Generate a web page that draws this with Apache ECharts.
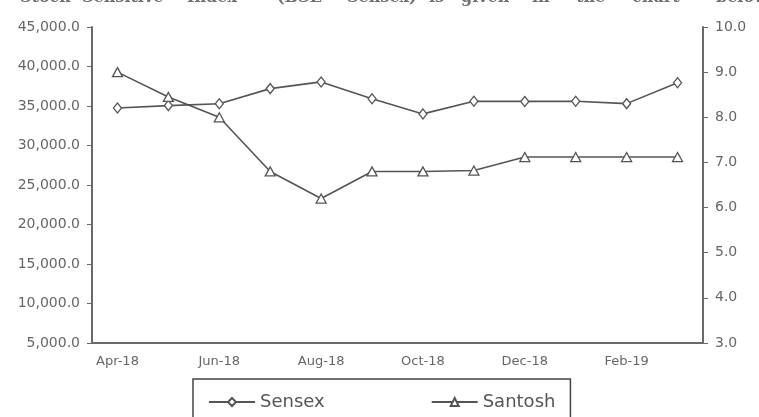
<!DOCTYPE html>
<html>
<head>
<meta charset="utf-8">
<script src="https://cdn.jsdelivr.net/npm/echarts@6/dist/echarts.min.js"></script>
<style>
html, body { margin: 0; padding: 0; background: #fff; }
#main { width: 759px; height: 417px; }
</style>
</head>
<body>
<div id="main"></div>
<script>
// data
var months = ['Apr-18', 'May-18', 'Jun-18', 'Jul-18', 'Aug-18', 'Sep-18', 'Oct-18', 'Nov-18', 'Dec-18', 'Jan-19', 'Feb-19', 'Mar-19'];
var sensex = [34750, 35050, 35280, 37200, 38050, 35920, 34000, 35600, 35580, 35600, 35300, 37950];
var santosh = [9.0, 8.45, 8.0, 6.8, 6.2, 6.8, 6.8, 6.82, 7.12, 7.12, 7.12, 7.12];
var headerText = 'Stock Sensitive Index" (BSE Sensex) is given in the chart below';

var ink = '#555';
var axisInk = '#6a6a6a';
var font = 'DejaVu Sans';

// header line of the scanned page, cut by the top edge
var headerX = [20, 82, 187, 277, 347, 429, 461, 532, 576, 632, 716];
var headerWords = headerText.split(' ');
var headerGraphics = headerWords.map(function (w, i) {
	return {
		type: 'text',
		x: headerX[i],
		y: 6,
		style: {
			text: w,
			fill: '#707070',
			font: 'bold 16px "DejaVu Serif"',
			verticalAlign: 'bottom'
		}
	};
});

function fmtThousands(v) {
	return v.toLocaleString('en-US', { minimumFractionDigits: 1, maximumFractionDigits: 1 });
}

var chart = echarts.init(document.getElementById('main'), null, { renderer: 'canvas' });

var option = {
	animation: false,
	backgroundColor: '#fff',
	graphic: headerGraphics,
	grid: {
		left: 92,
		right: 56,
		top: 27,
		bottom: 74
	},
	legend: {
		left: 193,
		top: 379,
		itemWidth: 46,
		itemHeight: 10,
		itemGap: 106,
		padding: [14, 15, 20, 15],
		borderColor: '#444',
		borderWidth: 1.5,
		textStyle: {
			fontFamily: font,
			fontSize: 18,
			color: ink
		},
		data: ['Sensex', 'Santosh']
	},
	xAxis: {
		type: 'category',
		data: months,
		boundaryGap: true,
		axisLine: { lineStyle: { color: axisInk, width: 2 } },
		axisTick: { interval: 1, inside: true, length: 4, lineStyle: { color: axisInk } },
		axisLabel: {
			interval: 1,
			margin: 12,
			fontFamily: font,
			fontSize: 13,
			color: '#666'
		},
		splitLine: { show: false }
	},
	yAxis: [{
		type: 'value',
		min: 5000,
		max: 45000,
		interval: 5000,
		position: 'left',
		axisLine: { show: true, lineStyle: { color: axisInk, width: 2 } },
		axisTick: { show: true, length: 5, lineStyle: { color: axisInk } },
		axisLabel: {
			margin: 12,
			fontFamily: font,
			fontSize: 14,
			color: '#666',
			formatter: fmtThousands
		},
		splitLine: { show: false }
	}, {
		type: 'value',
		min: 3,
		max: 10,
		interval: 1,
		position: 'right',
		axisLine: { show: true, lineStyle: { color: axisInk, width: 2 } },
		axisTick: { show: true, length: 5, lineStyle: { color: axisInk } },
		axisLabel: {
			margin: 12,
			fontFamily: font,
			fontSize: 14,
			color: '#666',
			formatter: function (v) { return v.toFixed(1); }
		},
		splitLine: { show: false }
	}],
	series: [{
		name: 'Sensex',
		type: 'line',
		yAxisIndex: 0,
		data: sensex,
		symbol: 'diamond',
		symbolSize: [8, 10],
		showAllSymbol: true,
		lineStyle: { color: ink, width: 1.6 },
		itemStyle: { color: '#fff', borderColor: ink, borderWidth: 1.3 }
	}, {
		name: 'Santosh',
		type: 'line',
		yAxisIndex: 1,
		data: santosh,
		symbol: 'triangle',
		symbolSize: [10, 9],
		showAllSymbol: true,
		lineStyle: { color: ink, width: 1.6 },
		itemStyle: { color: '#fff', borderColor: ink, borderWidth: 1.3 }
	}]
};

chart.setOption(option);
window.onresize = chart.resize;
</script>
</body>
</html>
